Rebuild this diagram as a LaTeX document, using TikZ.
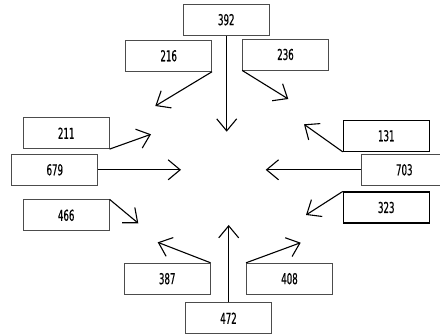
\documentclass[tikz,border=0pt]{standalone}
\usepackage{fontspec}
\setmainfont{DejaVu Sans Condensed}
\newfontfamily\numfont[FakeStretch=0.64,FakeBold=0.6]{DejaVu Sans Condensed}
\usetikzlibrary{arrows.meta}
\begin{document}
\begin{tikzpicture}[x=1pt,y=-1pt,
  box/.style={draw=black!70,line width=0.8pt,minimum width=86pt,minimum height=31pt,inner sep=0pt,font=\numfont\fontsize{15}{16}\selectfont},
  boldbox/.style={box,draw=black,line width=1.1pt},
  arr/.style={line width=1.1pt,-{Straight Barb[length=12pt,width=20pt,line width=1.1pt]}}]
\useasboundingbox (0,0) rectangle (440,336);
\node[box] (n392) at (226.3,19.7) {392};
\node[box] (n216) at (168.7,55.8) {216};
\node[box] (n236) at (285.5,54.5) {236};
\node[box] (n211) at (66.2,133.2) {211};
\node[box] (n679) at (54.8,169.8) {679};
\node[box] (n466) at (66.2,215.3) {466};
\node[boldbox] (n131) at (386.3,135.8) {131};
\node[box] (n703) at (404.3,169.8) {703};
\node[boldbox] (n323) at (386.3,207.5) {323};
\node[box] (n387) at (167.2,278.7) {387};
\node[box] (n408) at (289.5,278.7) {408};
\node[box] (n472) at (228.5,318.2) {472};
\coordinate (t392) at (226.7,131.7);
\coordinate (t216) at (155.3,106);
\coordinate (t236) at (288.3,99);
\coordinate (t211) at (151,134.3);
\coordinate (t679) at (181,169.8);
\coordinate (t466) at (138.3,223.3);
\coordinate (t131) at (304,124.3);
\coordinate (t703) at (265.7,169.8);
\coordinate (t323) at (306,215);
\coordinate (t387) at (157.7,242.3);
\coordinate (t408) at (300.7,242.7);
\coordinate (t472) at (228.7,225);
\draw[arr] (n392.south -| t392) -- (t392);
\draw[arr] (n216.south east) -- (t216);
\draw[arr] (n236.south west) -- (t236);
\draw[arr] (n211.south east) -- (t211);
\draw[arr] (n679.east) -- (t679);
\draw[arr] (n466.north east) -- (t466);
\draw[arr] (n131.south west) -- (t131);
\draw[arr] (n703.west) -- (t703);
\draw[arr] (n323.north west) -- (t323);
\draw[arr] (n387.north east) -- (t387);
\draw[arr] (n408.north west) -- (t408);
\draw[arr] (n472.north -| t472) -- (t472);
\end{tikzpicture}
\end{document}
